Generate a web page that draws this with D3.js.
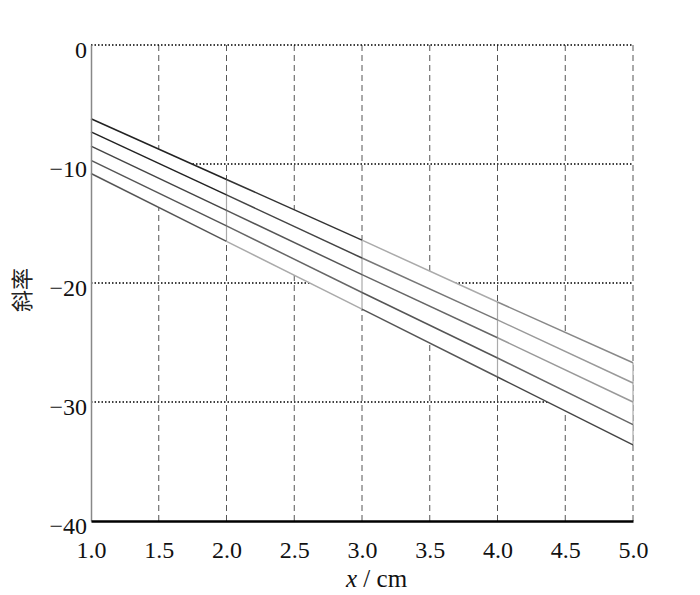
<!DOCTYPE html>
<html><head><meta charset="utf-8">
<script src="https://cdn.jsdelivr.net/npm/d3@7"></script>
<style>body{margin:0;background:#fff}svg{display:block}</style>
</head><body>
<script>
const xs = [1, 2, 3, 4, 5];
const line1 = [-6.2, -11.3, -16.4, -21.6, -26.7];
const line2 = [-7.3, -12.6, -17.9, -23.1, -28.4];
const line3 = [-8.5, -13.9, -19.3, -24.6, -30.0];
const line4 = [-9.7, -15.2, -20.8, -26.3, -31.9];
const line5 = [-10.8, -16.5, -22.2, -27.9, -33.6];
const series = [line1, line2, line3, line4, line5];
// grey level per segment (x1-2, 2-3, 3-4, 4-5) for each line
const segGrey = [
  ["#222", "#333", "#aaa", "#888"],
  ["#222", "#444", "#777", "#999"],
  ["#444", "#555", "#666", "#999"],
  ["#555", "#666", "#555", "#666"],
  ["#555", "#aaa", "#555", "#444"]
];
const xTicks = [1.0, 1.5, 2.0, 2.5, 3.0, 3.5, 4.0, 4.5, 5.0];
const yTicks = [0, -10, -20, -30, -40];

const W = 700, H = 595;
const m = {l: 91, r: 67, t: 45, b: 74};
const FONT = "Liberation Serif, Times New Roman, DejaVu Serif, serif";
const FS = 24;
const svg = d3.select("body").append("svg").attr("width", W).attr("height", H);
const x = d3.scaleLinear().domain([1, 5]).range([m.l, W - m.r]);
const y = d3.scaleLinear().domain([-40, 0]).range([H - m.b, m.t]);

// vertical dashed grid
svg.append("g").selectAll("line").data(xTicks.slice(1)).join("line")
  .attr("x1", d => x(d)).attr("x2", d => x(d))
  .attr("y1", y(0)).attr("y2", y(-40))
  .attr("stroke", "#555").attr("stroke-width", 1).attr("stroke-dasharray", "6,4");
// horizontal dotted grid
svg.append("g").selectAll("line").data(yTicks.slice(0, 4)).join("line")
  .attr("x1", x(1)).attr("x2", x(5))
  .attr("y1", d => y(d)).attr("y2", d => y(d))
  .attr("stroke", "#000").attr("stroke-width", 1.5).attr("stroke-dasharray", "1.5,2");

// occluding band
const band = xs.map((v, i) => [x(v), y(line1[i])]).concat(xs.map((v, i) => [x(v), y(line5[i])]).reverse());
svg.append("path").attr("d", "M" + band.join("L") + "Z").attr("fill", "#fff");

// vertical mesh edges
svg.append("g").selectAll("line").data(xs.slice(1)).join("line")
  .attr("x1", d => x(d)).attr("x2", d => x(d))
  .attr("y1", (d, i) => y(line1[i + 1])).attr("y2", (d, i) => y(line5[i + 1]))
  .attr("stroke", "#aaa").attr("stroke-width", 1.2);

// line segments
const segs = [];
series.forEach((s, k) => {
  for (let i = 0; i < xs.length - 1; i++) segs.push({x0: xs[i], x1: xs[i + 1], y0: s[i], y1: s[i + 1], c: segGrey[k][i]});
});
svg.append("g").selectAll("line").data(segs).join("line")
  .attr("x1", d => x(d.x0)).attr("x2", d => x(d.x1))
  .attr("y1", d => y(d.y0)).attr("y2", d => y(d.y1))
  .attr("stroke", d => d.c).attr("stroke-width", 1.5);

// left axis
const ya = svg.append("g").attr("transform", `translate(${m.l},0)`)
  .call(d3.axisLeft(y).tickValues(yTicks).tickSize(0).tickPadding(4).tickFormat(d => d < 0 ? "\u2212" + Math.abs(d) : d));
ya.attr("font-family", FONT).attr("font-size", FS);
ya.select(".domain").attr("stroke", "#888").attr("stroke-width", 1.5);
ya.selectAll("text").attr("font-family", FONT).attr("font-size", FS).attr("fill", "#111").attr("dy", "0.54em");

// bottom axis
const xa = svg.append("g").attr("transform", `translate(0,${y(-40)})`)
  .call(d3.axisBottom(x).tickValues(xTicks).tickSize(0).tickPadding(20).tickFormat(d3.format(".1f")));
xa.attr("font-family", FONT).attr("font-size", FS);
xa.select(".domain").attr("stroke", "#000").attr("stroke-width", 2.5);
xa.selectAll("text").attr("font-family", FONT).attr("font-size", FS).attr("fill", "#111");

// axis titles
const xt = svg.append("text").attr("x", 346).attr("y", 587).attr("text-anchor", "start")
  .attr("font-family", FONT).attr("font-size", 25).attr("fill", "#111");
xt.append("tspan").attr("font-style", "italic").text("x");
xt.append("tspan").text(" / cm");
svg.append("text").attr("transform", "translate(30,290) rotate(-90)")
  .attr("text-anchor", "middle").attr("font-family", "Noto Sans CJK SC, sans-serif")
  .attr("font-size", 22).attr("fill", "#222").text("斜率");
</script>
</body></html>
